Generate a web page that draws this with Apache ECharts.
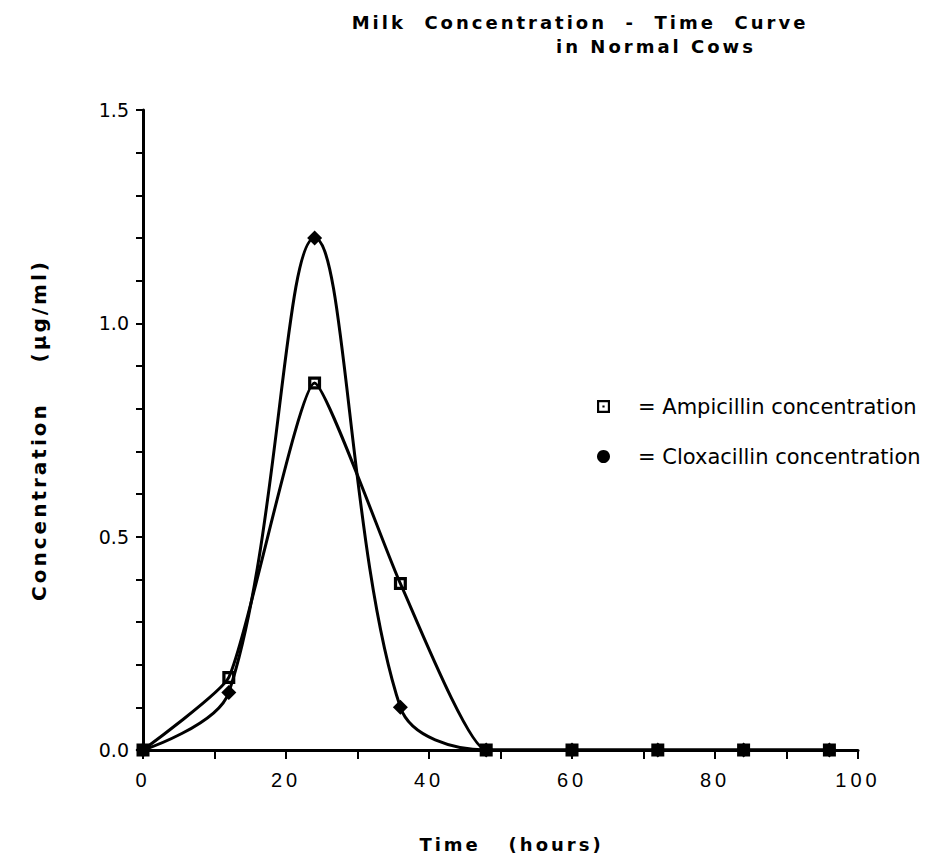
<!DOCTYPE html>
<html>
<head>
<meta charset="utf-8">
<script src="https://cdn.jsdelivr.net/npm/echarts@6/dist/echarts.min.js"></script>
<style>
  html, body { margin: 0; padding: 0; background: #fff; }
  #chart { width: 932px; height: 865px; }
  /* old Mac plot: bold text and x tick digits are letter-spaced */
  #chart svg text[style*="bold"] { letter-spacing: 3px; }
  #chart svg text[style*="Liberation"] { letter-spacing: 4px; }
</style>
</head>
<body>
<div id="chart"></div>
<script>
const hours = [0, 12, 24, 36, 48, 60, 72, 84, 96]
const ampicillin = [0, 0.17, 0.86, 0.39, 0, 0, 0, 0, 0]
const cloxacillin = [0, 0.135, 1.2, 0.10, 0, 0, 0, 0, 0]

const ampName = 'Ampicillin concentration'
const cloxName = 'Cloxacillin concentration'

// hollow square, the line shows through
const ringSquare = 'path://M0,0H12V12H0Z M3,3V9H9V3Z'

const chart = echarts.init(document.getElementById('chart'), null, { renderer: 'svg' })

chart.setOption({
  animation: false,
  title: [
    {
      text: 'Milk  Concentration  -  Time  Curve',
      left: 580, top: 13, padding: 0, textAlign: 'center',
      textStyle: { fontFamily: 'DejaVu Sans', fontWeight: 'bold', fontSize: 18, color: '#000' }
    },
    {
      text: 'in Normal Cows',
      left: 656, top: 37, padding: 0, textAlign: 'center',
      textStyle: { fontFamily: 'DejaVu Sans', fontWeight: 'bold', fontSize: 18, color: '#000' }
    }
  ],
  legend: {
    orient: 'vertical',
    left: 597, top: 396,
    itemWidth: 13, itemHeight: 13, itemGap: 29,
    padding: 0,
    formatter: '= {name}',
    textStyle: { fontFamily: 'DejaVu Sans', fontSize: 21, color: '#000', padding: [0, 0, 0, 23] },
    data: [
      {
        name: ampName,
        icon: 'path://M0,0H12V12H0Z M2,2V10H10V2Z M5,5H7V7H5Z',
        itemStyle: { color: '#000', borderWidth: 0 }
      },
      { name: cloxName, icon: 'circle', itemStyle: { color: '#000', borderWidth: 0 } }
    ]
  },
  grid: { left: 143, right: 74, top: 110, bottom: 115 },
  xAxis: {
    type: 'value',
    min: 0, max: 100, interval: 20,
    name: 'Time   (hours)',
    nameLocation: 'middle',
    nameGap: 85,
    nameTextStyle: { fontFamily: 'DejaVu Sans', fontWeight: 'bold', fontSize: 18, color: '#000', padding: [0, 0, 0, 22] },
    axisLine: { onZero: false, lineStyle: { color: '#000', width: 3 } },
    axisTick: { length: 9, lineStyle: { color: '#000', width: 2 } },
    minorTick: { show: true, splitNumber: 2, length: 9, lineStyle: { color: '#000', width: 2 } },
    axisLabel: { margin: 20, fontFamily: 'Liberation Sans', fontSize: 20, color: '#000' },
    splitLine: { show: false }
  },
  yAxis: {
    type: 'value',
    min: 0, max: 1.5, interval: 0.5,
    name: 'Concentration    (µg/ml)',
    nameLocation: 'middle',
    nameGap: 94,
    nameTextStyle: { fontFamily: 'DejaVu Sans', fontWeight: 'bold', fontSize: 20, color: '#000' },
    axisLine: { lineStyle: { color: '#000', width: 3 } },
    axisTick: { length: 7, lineStyle: { color: '#000', width: 2 } },
    minorTick: { show: true, splitNumber: 5, length: 7, lineStyle: { color: '#000', width: 2 } },
    axisLabel: {
      margin: 14, fontFamily: 'DejaVu Sans', fontSize: 19, color: '#000',
      formatter: v => v.toFixed(1)
    },
    splitLine: { show: false }
  },
  series: [
    {
      name: ampName,
      type: 'line',
      smooth: 0.15,
      clip: false,
      symbol: ringSquare,
      symbolSize: 13,
      itemStyle: { color: '#000' },
      lineStyle: { color: '#000', width: 3 },
      data: hours.map((h, i) => [h, ampicillin[i]])
    },
    {
      name: cloxName,
      type: 'line',
      smooth: 0.35,
      clip: false,
      symbol: 'diamond',
      symbolSize: 15,
      itemStyle: { color: '#000' },
      lineStyle: { color: '#000', width: 3 },
      data: hours.map((h, i) => [h, cloxacillin[i]])
    }
  ]
})
</script>
</body>
</html>
